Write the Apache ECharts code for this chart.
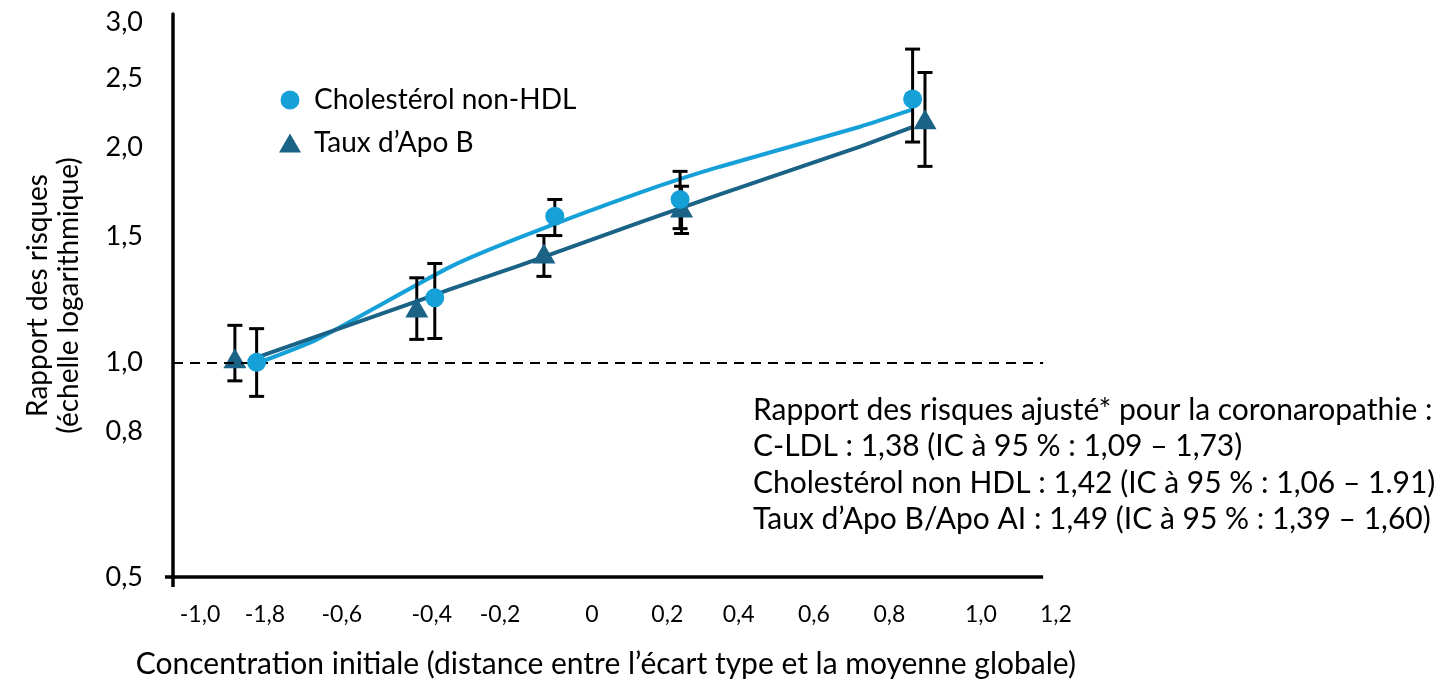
<!DOCTYPE html>
<html><head><meta charset="utf-8">
<script src="https://cdn.jsdelivr.net/npm/echarts@6/dist/echarts.min.js"></script>
<style>html,body{margin:0;padding:0;background:#fff}#chart{width:1441px;height:684px}</style>
</head><body><div id="chart"></div>
<script>
// ---- data ----
const seriesNames = ['Cholestérol non-HDL', 'Taux d’Apo B'];

const circleX    = [-0.894, -0.419, -0.099, 0.235, 0.855];
const circleY    = [1.000, 1.232, 1.603, 1.692, 2.340];
const circleLow  = [0.896, 1.080, 1.506, 1.540, 2.037];
const circleHigh = [1.115, 1.376, 1.692, 1.853, 2.750];

const triX    = [-0.952, -0.467, -0.128, 0.239, 0.888];
const triY    = [1.013, 1.194, 1.421, 1.649, 2.192];
const triLow  = [0.942, 1.077, 1.320, 1.516, 1.883];
const triHigh = [1.127, 1.314, 1.506, 1.766, 2.550];

const fitLightX = [-0.893, -0.733, -0.379, -0.192, 0.128, 0.341, 0.715, 0.853];
const fitLightY = [0.997, 1.077, 1.360, 1.497, 1.730, 1.881, 2.140, 2.261];
const fitDarkX  = [-0.893, -0.467, -0.379, -0.192, 0.128, 0.341, 0.715, 0.856];
const fitDarkY  = [1.016, 1.218, 1.266, 1.368, 1.571, 1.720, 2.007, 2.140];

const xTickValues = [-1.045, -0.872, -0.667, -0.427, -0.245, 0, 0.201, 0.391, 0.592, 0.793, 1.037, 1.237];
const xTickLabels = ['-1,0', '-1,8', '-0,6', '-0,4', '-0,2', '0', '0,2', '0,4', '0,6', '0,8', '1,0', '1,2'];
const yTickValues = [0.5, 0.8, 1.0, 1.5, 2.0, 2.5, 3.0];
const yTickLabels = ['0,5', '0,8', '1,0', '1,5', '2,0', '2,5', '3,0'];

const referenceLevel = 1.0;
const xMin = -1.117, xMax = 1.25, xLineEnd = 1.203;
const yMin = 0.5, yMax = 3.08;

const xTitle = 'Concentration initiale (distance entre l’écart type et la moyenne globale)';
const yTitle = 'Rapport des risques\n(échelle logarithmique)';
const noteLines = [
  'Rapport des risques ajusté* pour la coronaropathie :',
  'C-LDL : 1,38 (IC à 95 % : 1,09 – 1,73)',
  'Cholestérol non HDL : 1,42 (IC à 95 % : 1,06 – 1.91)',
  'Taux d’Apo B/Apo AI : 1,49 (IC à 95 % : 1,39 – 1,60)'
];

// ---- styles ----
const LIGHT = '#16A0D8';
const DARK = '#1A6387';
const FONT = 'Lato';

const zip = (a, b) => a.map((v, i) => [v, b[i]]);
const zip3 = (a, b, c) => a.map((v, i) => [v, b[i], c[i]]);

function nearestLabel(values, labels, v) {
  let best = 0, d = Infinity;
  values.forEach((t, i) => { const dd = Math.abs(t - v); if (dd < d) { d = dd; best = i; } });
  return labels[best];
}

function errorBar(params, api) {
  const x = api.value(0);
  const lo = api.coord([x, api.value(1)]);
  const hi = api.coord([x, api.value(2)]);
  const hw = 7.5;
  const style = { stroke: '#000', lineWidth: 3 };
  return {
    type: 'group',
    children: [
      { type: 'line', shape: { x1: lo[0], y1: lo[1], x2: hi[0], y2: hi[1] }, style },
      { type: 'line', shape: { x1: lo[0] - hw, y1: lo[1], x2: lo[0] + hw, y2: lo[1] }, style },
      { type: 'line', shape: { x1: hi[0] - hw, y1: hi[1], x2: hi[0] + hw, y2: hi[1] }, style }
    ]
  };
}

const chart = echarts.init(document.getElementById('chart'), null, { renderer: 'canvas' });
chart.setOption({
  animation: false,
  backgroundColor: '#fff',
  textStyle: { fontFamily: FONT, color: '#000' },
  grid: { left: 173, right: 380.25, top: 14, bottom: 106, containLabel: false },
  legend: {
    orient: 'vertical', left: 274, top: 80,
    itemWidth: 22, itemHeight: 19, itemGap: 13,
    selectedMode: false,
    textStyle: { fontFamily: FONT, fontSize: 28, color: '#000', lineHeight: 30, padding: [0, 0, 0, 8] },
    data: [
      { name: seriesNames[0], icon: 'circle', itemStyle: { color: LIGHT } },
      { name: seriesNames[1], icon: 'triangle', itemStyle: { color: DARK } }
    ]
  },
  xAxis: {
    type: 'value', min: xMin, max: xMax,
    splitLine: { show: false },
    axisLine: { show: false },
    axisTick: { show: true, customValues: [xMin], length: 10, inside: false, lineStyle: { color: '#000', width: 3.5 } },
    axisLabel: {
      customValues: xTickValues, margin: 26,
      fontFamily: FONT, fontSize: 23, color: '#000',
      formatter: v => nearestLabel(xTickValues, xTickLabels, v)
    },
    name: xTitle, nameLocation: 'middle', nameGap: 72,
    nameTextStyle: { fontFamily: FONT, fontSize: 30, color: '#000', padding: [0, 22, 0, 0] }
  },
  yAxis: {
    type: 'log', min: yMin, max: yMax, logBase: 10,
    splitLine: { show: false },
    axisLine: { show: true, onZero: false, lineStyle: { color: '#000', width: 3.5 } },
    axisTick: { show: true, customValues: [yMin], length: 8, lineStyle: { color: '#000', width: 3.5 } },
    axisLabel: {
      customValues: yTickValues, margin: 30,
      fontFamily: FONT, fontSize: 27, color: '#000',
      formatter: v => nearestLabel(yTickValues, yTickLabels, v)
    },
    name: yTitle, nameLocation: 'middle', nameRotate: 90, nameGap: 89,
    nameTextStyle: { fontFamily: FONT, fontSize: 28, color: '#000', lineHeight: 31, align: 'center' }
  },
  graphic: [{
    type: 'text', left: 753, top: 392, silent: true,
    style: { text: noteLines.join('\n'), font: '30px ' + FONT, fill: '#000', lineHeight: 36.5 }
  }],
  series: [
    {
      name: 'fitLight', type: 'line', z: 2, smooth: 0.2, symbol: 'none', silent: true,
      data: zip(fitLightX, fitLightY),
      lineStyle: { color: LIGHT, width: 4 },
      markLine: {
        silent: true, symbol: 'none', label: { show: false },
        data: [
          [{ coord: [xMin, yMin], lineStyle: { type: 'solid', color: '#000', width: 3.5 } }, { coord: [xLineEnd, yMin] }],
          [{ coord: [xMin, referenceLevel], lineStyle: { type: [10, 7], color: '#000', width: 2.2 } }, { coord: [xLineEnd, referenceLevel] }]
        ]
      }
    },
    {
      name: 'fitDark', type: 'line', z: 2, symbol: 'none', silent: true,
      data: zip(fitDarkX, fitDarkY),
      lineStyle: { color: DARK, width: 4 }
    },
    {
      name: 'errCircle', type: 'custom', z: 3, silent: true,
      renderItem: errorBar, encode: { x: 0, y: [1, 2] },
      data: zip3(circleX, circleLow, circleHigh)
    },
    {
      name: 'errTri', type: 'custom', z: 3, silent: true,
      renderItem: errorBar, encode: { x: 0, y: [1, 2] },
      data: zip3(triX, triLow, triHigh)
    },
    {
      name: seriesNames[1], type: 'scatter', z: 4, symbol: 'triangle', symbolSize: [23, 20],
      itemStyle: { color: DARK, opacity: 1 },
      data: zip(triX, triY)
    },
    {
      name: seriesNames[0], type: 'scatter', z: 5, symbol: 'circle', symbolSize: 19,
      itemStyle: { color: LIGHT, opacity: 1 },
      data: zip(circleX, circleY)
    }
  ]
});
</script>
</body></html>
